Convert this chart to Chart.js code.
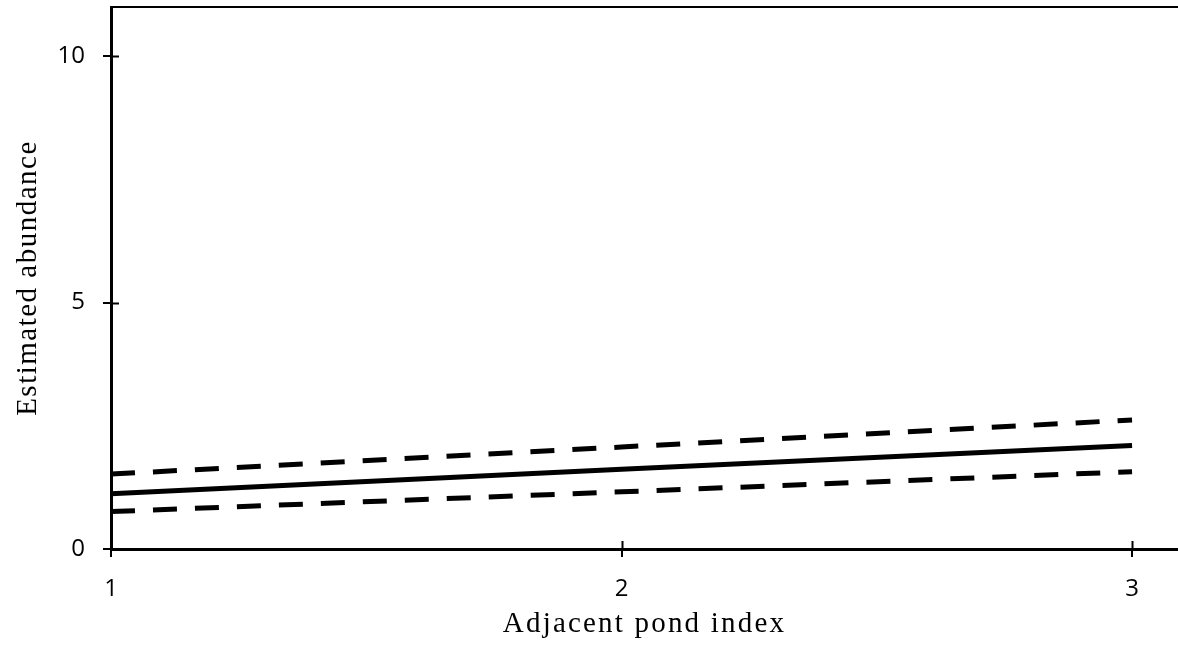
<!DOCTYPE html>
<html>
<head>
<meta charset="utf-8">
<title>Estimated abundance</title>
<script src="https://cdn.jsdelivr.net/npm/chart.js@4"></script>
<style>
  html, body { margin: 0; padding: 0; background: #fff; }
  #wrap { width: 1178px; height: 645px; }
</style>
</head>
<body>
<div id="wrap"><canvas id="chart"></canvas></div>
<script>
// pond index values and the fitted abundance with its interval
const pondIndex = [1, 2, 3];
const fitted = [1.12, 1.62, 2.10];
const upperBound = [1.52, 2.07, 2.62];
const lowerBound = [0.76, 1.16, 1.57];

const xTicks = [1, 2, 3];
const yTicks = [0, 5, 10];

const xTitle = "Adjacent pond index";
const yTitle = "Estimated abundance";

const toPoints = ys => pondIndex.map((x, i) => ({ x: x, y: ys[i] }));

const serif = "'Liberation Serif', 'Times New Roman', serif";

// top frame line, tick marks crossing the axes, and the spaced-out axis titles
const frame = {
    id: "frame",
    afterDraw(c) {
        const ctx = c.ctx, a = c.chartArea;
        const xs = c.scales.x, ys = c.scales.y;
        ctx.save();
        ctx.strokeStyle = "#000";
        ctx.lineWidth = 2;
        ctx.beginPath();
        ctx.moveTo(a.left, a.top);
        ctx.lineTo(a.right, a.top);
        ctx.stroke();
        xTicks.forEach(v => {
            const px = Math.round(xs.getPixelForValue(v)) + 0.5;
            ctx.beginPath();
            ctx.moveTo(px, a.bottom);
            ctx.lineTo(px, a.bottom - 8);
            ctx.stroke();
        });
        yTicks.forEach(v => {
            const py = Math.round(ys.getPixelForValue(v)) + 0.5;
            ctx.beginPath();
            ctx.moveTo(a.left, py);
            ctx.lineTo(a.left + 8, py);
            ctx.stroke();
        });

        ctx.fillStyle = "#000";
        ctx.textBaseline = "alphabetic";
        ctx.textAlign = "center";
        ctx.font = "29px " + serif;
        ctx.letterSpacing = "2.2px";
        ctx.fillText(xTitle, (a.left + a.right) / 2, 632);

        ctx.letterSpacing = "1.5px";
        ctx.translate(36, (a.top + a.bottom) / 2);
        ctx.rotate(-Math.PI / 2);
        ctx.fillText(yTitle, 0, 0);
        ctx.restore();
    }
};

const tickFont = { family: "'Open Sans', sans-serif", size: 24 };

new Chart(document.getElementById("chart"), {
    type: "line",
    data: {
        datasets: [
            {
                label: "Upper",
                data: toPoints(upperBound),
                borderColor: "#000",
                borderWidth: 5,
                borderDash: [24, 18],
                borderCapStyle: "butt",
                pointRadius: 0,
                fill: false
            },
            {
                label: "Estimate",
                data: toPoints(fitted),
                borderColor: "#000",
                borderWidth: 5,
                pointRadius: 0,
                fill: false
            },
            {
                label: "Lower",
                data: toPoints(lowerBound),
                borderColor: "#000",
                borderWidth: 5,
                borderDash: [24, 18],
                borderCapStyle: "butt",
                pointRadius: 0,
                fill: false
            }
        ]
    },
    options: {
        responsive: true,
        maintainAspectRatio: false,
        animation: false,
        layout: { padding: { top: 7, right: 0, left: 0, bottom: 0 } },
        plugins: {
            legend: { display: false },
            tooltip: { enabled: false }
        },
        scales: {
            x: {
                type: "linear",
                min: 1,
                max: 3.09,
                afterBuildTicks: s => { s.ticks = xTicks.map(v => ({ value: v })); },
                afterFit: s => { s.height = 96; s.paddingLeft = 0; s.paddingRight = 0; },
                border: { display: true, color: "#000", width: 3 },
                grid: { drawOnChartArea: false, drawTicks: true, tickLength: 8, color: "#000", lineWidth: 2 },
                ticks: { color: "#000", font: tickFont, padding: 18, maxRotation: 0 }
            },
            y: {
                type: "linear",
                min: 0,
                max: 11,
                afterBuildTicks: s => { s.ticks = yTicks.map(v => ({ value: v })); },
                afterFit: s => { s.width = 111; s.paddingTop = 0; s.paddingBottom = 0; },
                border: { display: true, color: "#000", width: 3 },
                grid: { drawOnChartArea: false, drawTicks: true, tickLength: 8, color: "#000", lineWidth: 2 },
                ticks: { color: "#000", font: tickFont, padding: 18 }
            }
        }
    },
    plugins: [frame]
});
</script>
</body>
</html>
